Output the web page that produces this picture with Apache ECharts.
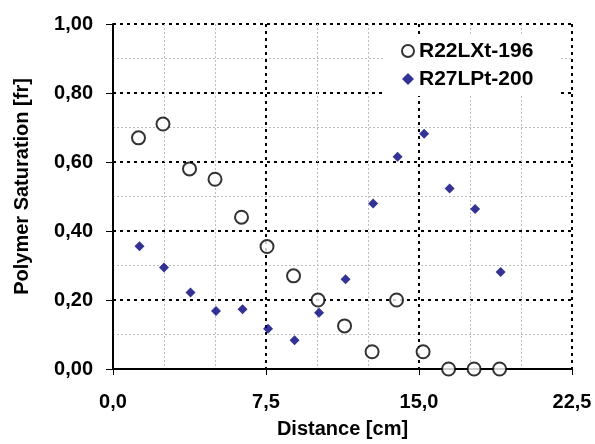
<!DOCTYPE html>
<html>
<head>
<meta charset="utf-8">
<script src="https://cdn.jsdelivr.net/npm/echarts@6/dist/echarts.min.js"></script>
<style>
html,body{margin:0;padding:0;background:#fff;}
#chart{width:595px;height:444px;}
</style>
</head>
<body>
<div id="chart"></div>
<script>
// distance [cm] and polymer saturation [fr]
var distA = [1.25, 2.45, 3.75, 5.0, 6.3, 7.55, 8.85, 10.05, 11.35, 12.7, 13.9, 15.2, 16.45, 17.7, 18.95];
var satA = [0.67, 0.71, 0.58, 0.55, 0.44, 0.355, 0.27, 0.20, 0.125, 0.05, 0.20, 0.05, 0, 0, 0];
var distB = [1.3, 2.5, 3.8, 5.05, 6.35, 7.6, 8.9, 10.1, 11.4, 12.75, 13.95, 15.25, 16.5, 17.75, 19.0];
var satB = [0.356, 0.294, 0.222, 0.168, 0.173, 0.117, 0.083, 0.163, 0.26, 0.48, 0.615, 0.682, 0.523, 0.464, 0.281];
var seriesNames = ['R22LXt-196', 'R27LPt-200'];

function pairs(xs, ys){
    return xs.map(function(x, i){ return [x, ys[i]]; });
}

var font = "'Liberation Sans', Arial, sans-serif";
var chart = echarts.init(document.getElementById('chart'));

var majorLine = {show: true, lineStyle: {color: '#000', width: 2, type: [3, 4]}};
var minorLine = {show: true, lineStyle: {color: '#bdbdbd', width: 1, type: [2, 2]}};

var option = {
    animation: false,
    backgroundColor: '#fff',
    grid: {left: 113, right: 23, top: 24, bottom: 73},
    legend: {
        orient: 'vertical',
        left: 383,
        top: 36,
        padding: [4, 26, 6, 18],
        backgroundColor: '#fff',
        itemWidth: 12,
        itemHeight: 12,
        itemGap: 6,
        itemTextGap: 14,
        textStyle: {fontFamily: font, fontWeight: 'bold', fontSize: 21, color: '#000', lineHeight: 22},
        data: seriesNames
    },
    xAxis: {
        type: 'value',
        min: 0, max: 22.5, interval: 7.5,
        name: 'Distance [cm]',
        nameLocation: 'middle',
        nameGap: 50,
        nameTextStyle: {fontFamily: font, fontWeight: 'bold', fontSize: 20, color: '#000'},
        axisLine: {show: true, onZero: false, lineStyle: {color: '#000', width: 2}},
        axisTick: {show: true, length: 6, lineStyle: {color: '#000', width: 1}},
        axisLabel: {
            margin: 23,
            fontFamily: font, fontWeight: 'bold', fontSize: 20, color: '#000',
            formatter: function(v){ return v.toFixed(1).replace('.', ','); }
        },
        splitLine: majorLine,
        minorTick: {show: false, splitNumber: 3},
        minorSplitLine: minorLine
    },
    yAxis: {
        type: 'value',
        min: 0, max: 1, interval: 0.2,
        name: 'Polymer Saturation [fr]',
        nameLocation: 'middle',
        nameGap: 81,
        nameTextStyle: {fontFamily: font, fontWeight: 'bold', fontSize: 20, color: '#000', padding: [0, 0, 0, 20]},
        axisLine: {show: true, onZero: false, lineStyle: {color: '#000', width: 2}},
        axisTick: {show: true, length: 7, lineStyle: {color: '#000', width: 1}},
        axisLabel: {
            margin: 20,
            fontFamily: font, fontWeight: 'bold', fontSize: 20, color: '#000',
            formatter: function(v){ return v.toFixed(2).replace('.', ','); }
        },
        splitLine: majorLine,
        minorTick: {show: false, splitNumber: 2},
        minorSplitLine: minorLine
    },
    series: [
        {
            name: seriesNames[0],
            type: 'scatter',
            symbol: 'emptyCircle',
            symbolSize: 13,
            clip: false,
            itemStyle: {color: '#000', borderColor: '#000', borderWidth: 1.3},
            data: pairs(distA, satA)
        },
        {
            name: seriesNames[1],
            type: 'scatter',
            symbol: 'diamond',
            symbolSize: 10,
            clip: false,
            itemStyle: {color: '#00007a'},
            data: pairs(distB, satB)
        }
    ]
};

chart.setOption(option);
window.addEventListener('resize', function () {
    chart.resize();
});
</script>
</body>
</html>
